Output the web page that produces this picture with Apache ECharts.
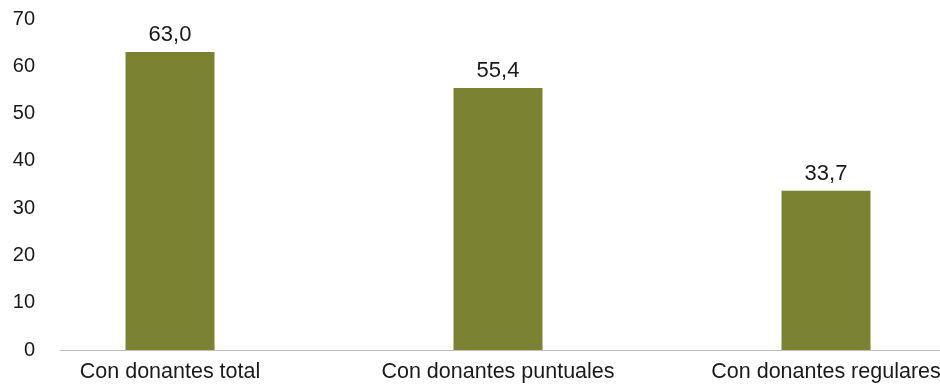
<!DOCTYPE html>
<html>
<head>
<meta charset="utf-8">
<script src="https://cdn.jsdelivr.net/npm/echarts@6/dist/echarts.min.js"></script>
<style>
  html, body { margin: 0; padding: 0; background: #fff; }
  #chart { width: 940px; height: 385px; }
</style>
</head>
<body>
<div id="chart"></div>
<script>
const categories = ['Con donantes total', 'Con donantes puntuales', 'Con donantes regulares'];
const values = [63.0, 55.4, 33.7];
const yTicks = { min: 0, max: 70, interval: 10 };

const chart = echarts.init(document.getElementById('chart'));
const font = 'Liberation Sans, Arial, sans-serif';

chart.setOption({
  animation: false,
  grid: [
    // bars sit on a wider band so their centres match the original
    { left: 6, width: 984, top: 19, bottom: 35, containLabel: false, outerBoundsMode: 'none' },
    // axis line and y labels
    { left: 60, right: 0, top: 19, bottom: 35, containLabel: false, outerBoundsMode: 'none' }
  ],
  xAxis: [
    {
      type: 'category',
      gridIndex: 0,
      data: categories,
      axisLine: { show: false },
      axisTick: { show: false },
      axisLabel: { color: '#1a1a1a', fontSize: 21.5, fontFamily: font, margin: 11 }
    },
    {
      type: 'category',
      gridIndex: 1,
      data: categories,
      axisLine: { show: true, lineStyle: { color: '#bfbfbf', width: 1 } },
      axisTick: { show: false },
      axisLabel: { show: false }
    }
  ],
  yAxis: [
    {
      type: 'value',
      gridIndex: 0,
      min: yTicks.min, max: yTicks.max, interval: yTicks.interval,
      show: false
    },
    {
      type: 'value',
      gridIndex: 1,
      min: yTicks.min, max: yTicks.max, interval: yTicks.interval,
      splitLine: { show: false },
      axisLine: { show: false },
      axisTick: { show: false },
      axisLabel: { color: '#1a1a1a', fontSize: 20, fontFamily: font, margin: 25 }
    }
  ],
  series: [{
    type: 'bar',
    xAxisIndex: 0,
    yAxisIndex: 0,
    data: values,
    barWidth: 89,
    itemStyle: { color: '#7b8231' },
    label: {
      show: true,
      position: 'top',
      distance: 6,
      color: '#1a1a1a',
      fontSize: 22,
      fontFamily: font,
      formatter: p => p.value.toFixed(1).replace('.', ',')
    }
  }]
});
</script>
</body>
</html>
